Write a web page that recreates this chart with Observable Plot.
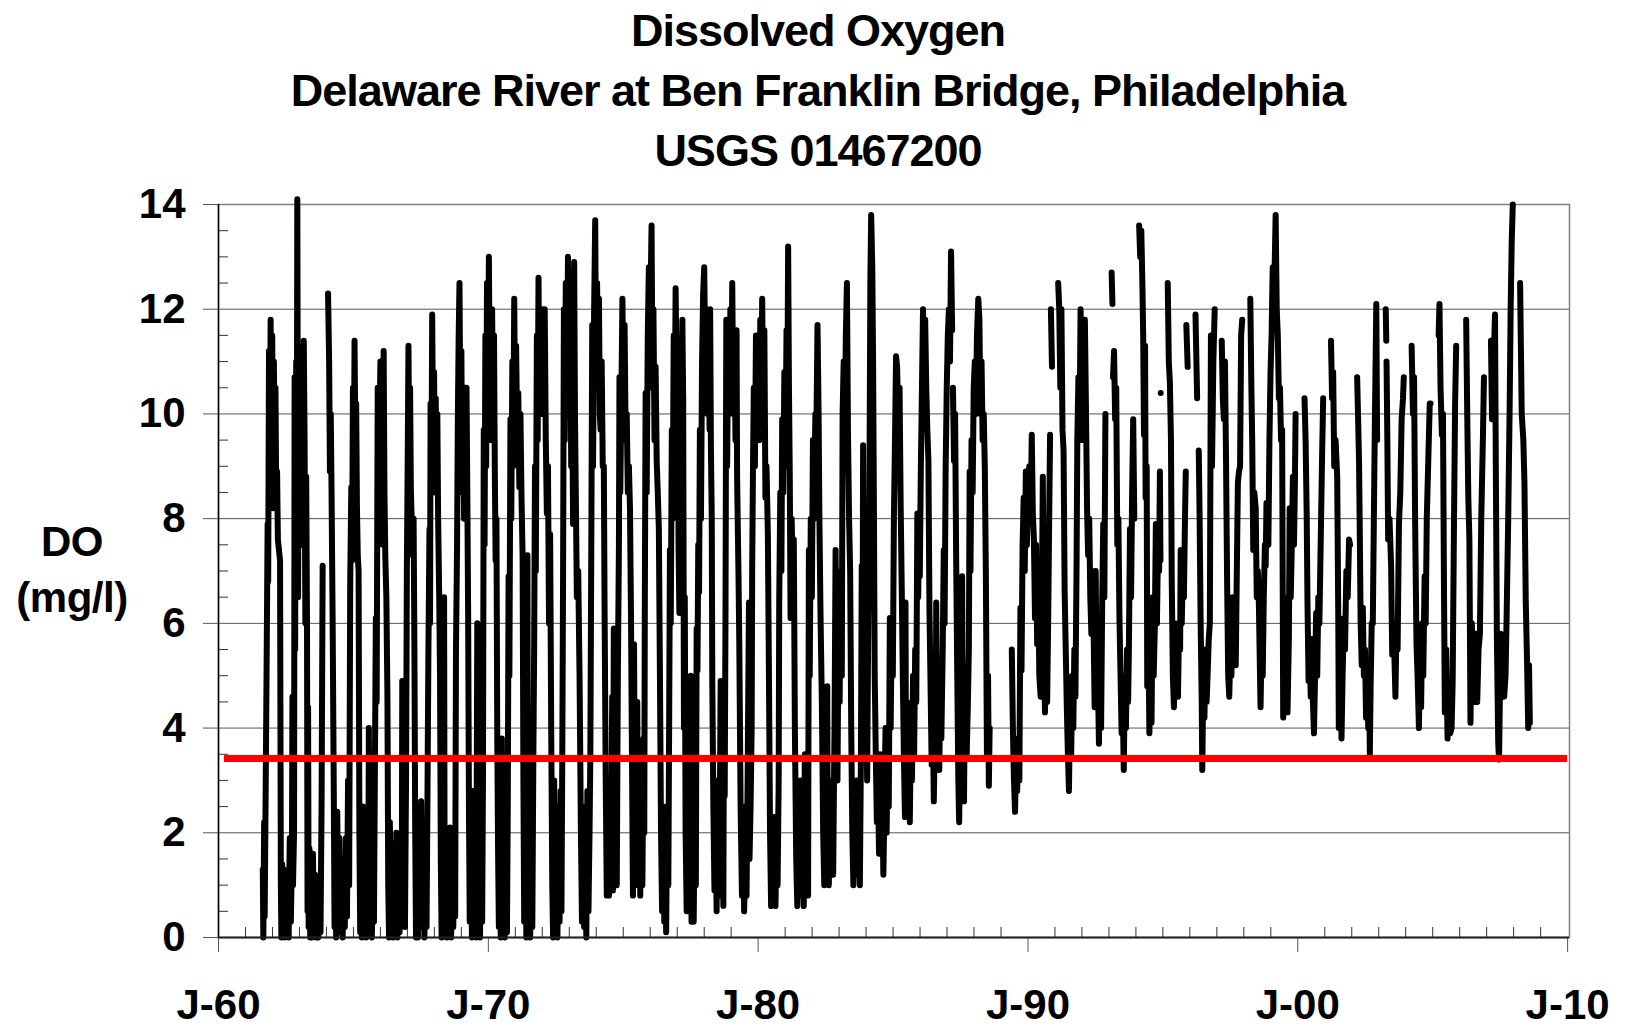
<!DOCTYPE html>
<html>
<head>
<meta charset="utf-8">
<script src="https://cdn.jsdelivr.net/npm/d3@7"></script>
<script src="https://cdn.jsdelivr.net/npm/@observablehq/plot@0.6"></script>
<style>
  html, body { margin: 0; padding: 0; background: #fff; }
  #wrap { position: relative; width: 1625px; height: 1027px; font-family: "Liberation Sans", Arial, sans-serif; font-weight: bold; color: #000; }
  #title { width: 1614px; padding-left: 11px; text-align: center; font-size: 45px; line-height: 60px; letter-spacing: -1px; padding-top: 1px; height: 179px; }
  #chart svg { display: block; }
  .ylab { position: absolute; left: 0; width: 144px; text-align: center; font-size: 42px; line-height: 42px; letter-spacing: -0.5px; }
</style>
</head>
<body>
<div id="wrap">
  <div id="title">
    <div>Dissolved Oxygen</div>
    <div>Delaware River at Ben Franklin Bridge, Philadelphia</div>
    <div>USGS 01467200</div>
  </div>
  <div id="chart"></div>
  <div class="ylab" style="top:521px">DO</div>
  <div class="ylab" style="top:577px">(mg/l)</div>
</div>
<script>
// ---- Data: [decimal year, dissolved oxygen mg/l]; null = gap in record ----
const do1960s = [
[1961.64,1.3],[1961.66,0],[1961.69,2.2],[1961.71,0.4],[1961.76,3.7],[1961.80,6.5],[1961.82,7.9],[1961.84,6.8],[1961.87,11.2],[1961.90,8.5],[1961.93,11.8],[1961.96,9.0],[1961.99,11.5],[1962.02,8.2],[1962.05,11.0],[1962.08,9.5],[1962.11,10.5],[1962.14,8.3],[1962.17,8.9],[1962.20,7.6],[1962.24,7.4],[1962.28,7.2],[1962.31,1.0],[1962.33,0],[1962.36,1.4],[1962.39,0.2],[1962.42,1.3],[1962.45,0],[1962.48,1.0],[1962.52,0.1],[1962.56,1.2],[1962.60,0],[1962.64,1.9],[1962.68,0.3],[1962.72,1.5],[1962.74,4.6],[1962.76,1.0],[1962.80,2.0],[1962.82,10.7],[1962.84,5.5],[1962.86,9.5],[1962.88,11.0],[1962.90,8.0],[1962.92,14.1],[1962.93,12.0],[1962.95,6.5],[1962.98,11.3],[1963.01,8.5],[1963.04,10.5],[1963.07,7.5],[1963.10,11.0],[1963.13,8.0],[1963.16,11.4],[1963.19,9.5],[1963.22,6.0],[1963.25,8.8],[1963.28,6.0],[1963.30,0.5],[1963.32,4.4],[1963.34,0.2],[1963.37,1.7],[1963.40,0],[1963.43,1.3],[1963.46,0],[1963.50,1.6],[1963.54,0.1],[1963.58,1.2],[1963.62,0],[1963.66,0.8],[1963.70,0],[1963.74,0.5],[1963.78,0.1],[1963.82,2.5],[1963.86,7.1],[1963.88,null],
[1964.06,12.3],[1964.10,11.0],[1964.13,8.9],[1964.16,10.0],[1964.19,8.5],[1964.23,6.0],[1964.27,3.0],[1964.30,0.2],[1964.33,2.1],[1964.36,0],[1964.40,2.4],[1964.44,0.3],[1964.48,1.9],[1964.52,0.1],[1964.56,1.5],[1964.60,0],[1964.64,1.0],[1964.68,0.2],[1964.72,1.9],[1964.76,0.4],[1964.80,3.0],[1964.84,1.0],[1964.88,6.8],[1964.92,8.6],[1964.95,7.2],[1964.98,10.5],[1965.01,8.2],[1965.04,11.4],[1965.07,9.5],[1965.10,10.2],[1965.13,8.2],[1965.16,7.3],[1965.19,7.0],[1965.22,2.0],[1965.25,0.1],[1965.28,1.8],[1965.31,0],[1965.35,2.5],[1965.39,0.2],[1965.43,1.6],[1965.47,0],[1965.51,2.2],[1965.55,0.5],[1965.57,4.0],[1965.60,0.8],[1965.64,1.5],[1965.68,0],[1965.72,1.0],[1965.76,0.3],[1965.80,3.6],[1965.83,6.1],[1965.86,4.5],[1965.90,10.5],[1965.93,8.5],[1965.96,9.5],[1966.00,11.0],[1966.03,8.0],[1966.06,10.5],[1966.09,7.5],[1966.12,11.2],[1966.15,8.5],[1966.18,7.3],[1966.22,6.5],[1966.26,4.6],[1966.29,1.0],[1966.32,0],[1966.35,2.2],[1966.39,0.1],[1966.43,1.8],[1966.47,0],[1966.51,1.5],[1966.55,0.2],[1966.59,2.0],[1966.63,0],[1966.67,1.2],[1966.71,0.1],[1966.75,1.6],[1966.79,0.3],[1966.81,4.9],[1966.83,0.5],[1966.87,2.0],[1966.91,0.2],[1966.95,3.0],[1966.98,7.0],[1967.01,9.0],[1967.04,11.3],[1967.07,9.0],[1967.10,10.5],[1967.13,8.5],[1967.16,8.0],[1967.19,7.3],[1967.23,8.0],[1967.26,5.6],[1967.29,2.0],[1967.32,0],[1967.35,1.5],[1967.39,0],[1967.43,1.8],[1967.47,0.2],[1967.51,2.6],[1967.55,0.3],[1967.59,1.8],[1967.63,0],[1967.67,1.2],[1967.71,0.2],[1967.74,2.3],[1967.78,5.5],[1967.82,7.8],[1967.84,6.0],[1967.86,10.2],[1967.89,8.5],[1967.92,11.9],[1967.95,9.5],[1967.99,10.8],[1968.02,8.5],[1968.05,10.3],[1968.08,9.0],[1968.11,10.0],[1968.14,8.0],[1968.18,6.5],[1968.21,5.0],[1968.24,1.4],[1968.27,0],[1968.30,1.8],[1968.34,0.1],[1968.36,6.5],[1968.38,1.0],[1968.42,2.0],[1968.46,0],[1968.50,1.5],[1968.54,0.3],[1968.58,2.1],[1968.62,0],[1968.66,1.4],[1968.70,0.2],[1968.74,1.5],[1968.77,0.4],[1968.80,5.5],[1968.84,7.5],[1968.87,10.0],[1968.90,11.5],[1968.93,12.5],[1968.96,10.0],[1969.00,11.2],[1969.03,8.5],[1969.06,10.5],[1969.10,8.0],[1969.13,10.5],[1969.16,8.0],[1969.19,10.5],[1969.22,8.5],[1969.25,6.2],[1969.28,2.5],[1969.31,0.3],[1969.35,2.5],[1969.39,0],[1969.43,2.8],[1969.47,0.4],[1969.51,1.5],[1969.55,0],[1969.59,6.0],[1969.61,1.0],[1969.65,2.0],[1969.69,0],[1969.73,1.5],[1969.77,0.3],[1969.80,3.0],[1969.83,9.7],[1969.86,7.5],[1969.89,11.5],[1969.92,9.0],[1969.95,12.5],[1969.98,10.0]
];
const do1970s = [
[1970.02,13.0],[1970.05,10.5],[1970.08,12.0],[1970.11,9.5],[1970.14,12.0],[1970.17,10.0],[1970.21,11.5],[1970.24,8.9],[1970.27,7.2],[1970.30,8.0],[1970.33,3.9],[1970.36,1.7],[1970.39,0.2],[1970.42,2.0],[1970.46,0],[1970.50,3.8],[1970.53,0.5],[1970.57,2.2],[1970.61,0],[1970.65,1.8],[1970.69,0.1],[1970.72,2.5],[1970.75,6.9],[1970.78,5.0],[1970.82,9.9],[1970.85,8.0],[1970.89,11.0],[1970.92,9.0],[1970.96,12.2],[1970.99,10.0],[1971.03,11.3],[1971.07,9.5],[1971.11,10.4],[1971.15,8.6],[1971.19,10.0],[1971.23,8.4],[1971.27,7.3],[1971.30,3.0],[1971.33,0.3],[1971.37,2.0],[1971.41,0],[1971.45,7.3],[1971.47,0.5],[1971.51,1.8],[1971.55,0],[1971.59,2.3],[1971.63,0.2],[1971.67,3.5],[1971.70,5.6],[1971.73,9.0],[1971.76,7.0],[1971.80,11.5],[1971.83,9.5],[1971.86,12.6],[1971.89,10.5],[1971.93,12.0],[1971.97,10.0],[1972.01,12.0],[1972.05,10.7],[1972.09,12.0],[1972.13,9.5],[1972.17,8.1],[1972.21,9.0],[1972.25,6.0],[1972.29,7.7],[1972.33,4.0],[1972.37,1.0],[1972.40,0],[1972.44,3.0],[1972.48,0.2],[1972.52,2.5],[1972.56,0],[1972.60,1.8],[1972.64,0.3],[1972.68,2.8],[1972.71,0.5],[1972.74,3.5],[1972.77,7.0],[1972.80,12.0],[1972.83,9.5],[1972.87,12.5],[1972.91,10.0],[1972.95,13.0],[1972.99,11.0],[1973.03,12.5],[1973.07,9.0],[1973.11,10.0],[1973.14,7.9],[1973.18,12.9],[1973.21,10.0],[1973.25,8.0],[1973.28,6.5],[1973.33,7.0],[1973.38,5.0],[1973.43,2.0],[1973.47,0.3],[1973.51,2.5],[1973.55,0.2],[1973.59,1.5],[1973.63,0],[1973.67,2.8],[1973.71,0.5],[1973.75,2.0],[1973.78,3.5],[1973.82,8.0],[1973.85,11.7],[1973.88,9.0],[1973.92,12.0],[1973.96,13.7],[1973.99,11.0],[1974.03,12.5],[1974.07,10.5],[1974.10,12.2],[1974.13,10.0],[1974.16,9.7],[1974.20,11.0],[1974.24,9.0],[1974.28,9.0],[1974.31,6.1],[1974.35,3.0],[1974.39,0.8],[1974.43,2.2],[1974.47,0.8],[1974.51,3.0],[1974.55,1.0],[1974.59,4.6],[1974.62,0.9],[1974.65,5.9],[1974.68,1.5],[1974.72,3.0],[1974.76,1.0],[1974.80,5.0],[1974.84,7.5],[1974.86,10.7],[1974.89,8.5],[1974.93,10.3],[1974.97,12.2],[1975.01,10.0],[1975.05,11.7],[1975.09,9.5],[1975.13,10.0],[1975.17,8.5],[1975.21,9.0],[1975.25,8.2],[1975.29,6.0],[1975.33,3.0],[1975.36,0.8],[1975.40,5.6],[1975.44,1.5],[1975.48,3.0],[1975.52,4.5],[1975.55,1.0],[1975.59,3.5],[1975.63,0.8],[1975.67,2.5],[1975.71,1.0],[1975.75,3.8],[1975.78,2.0],[1975.80,6.3],[1975.83,10.4],[1975.87,8.5],[1975.91,11.5],[1975.95,12.8],[1975.98,10.5],[1976.02,12.5],[1976.05,13.6],[1976.08,11.0],[1976.12,12.0],[1976.16,9.5],[1976.20,10.9],[1976.24,9.1],[1976.28,8.5],[1976.32,7.8],[1976.36,5.0],[1976.40,2.0],[1976.44,0.5],[1976.48,2.5],[1976.52,0.3],[1976.56,1.8],[1976.59,0.1],[1976.63,2.5],[1976.67,1.0],[1976.70,4.0],[1976.73,7.4],[1976.76,6.0],[1976.80,9.7],[1976.83,8.0],[1976.87,11.5],[1976.91,10.0],[1976.94,12.4],[1976.98,10.5],[1977.02,11.0],[1977.05,7.4],[1977.08,6.2],[1977.12,9.5],[1977.16,10.5],[1977.19,11.8],[1977.22,10.3],[1977.25,4.0],[1977.28,6.5],[1977.31,2.0],[1977.35,0.5],[1977.38,2.5],[1977.42,0.5],[1977.46,4.9],[1977.48,0.8],[1977.50,5.0],[1977.53,0.3],[1977.57,1.5],[1977.61,0.3],[1977.65,2.5],[1977.69,1.0],[1977.72,5.9],[1977.75,5.1],[1977.78,7.5],[1977.81,6.6],[1977.84,9.7],[1977.88,8.0],[1977.92,11.0],[1977.96,12.3],[1978.00,12.8],[1978.04,11.0],[1978.08,12.0],[1978.12,10.0],[1978.16,11.5],[1978.20,9.7],[1978.22,12.0],[1978.25,9.3],[1978.28,8.0],[1978.30,4.9],[1978.34,2.5],[1978.38,0.9],[1978.42,2.5],[1978.46,0.5],[1978.50,3.0],[1978.54,0.8],[1978.58,2.5],[1978.61,4.9],[1978.63,1.0],[1978.67,2.8],[1978.71,0.6],[1978.73,4.0],[1978.76,2.7],[1978.79,6.2],[1978.82,11.8],[1978.85,9.0],[1978.89,11.5],[1978.93,10.0],[1978.97,12.0],[1979.01,10.5],[1979.04,12.5],[1979.08,10.0],[1979.12,11.6],[1979.16,9.5],[1979.20,11.6],[1979.22,8.8],[1979.27,7.0],[1979.30,5.7],[1979.35,2.5],[1979.40,0.8],[1979.44,2.5],[1979.48,0.5],[1979.53,1.5],[1979.57,0.8],[1979.61,3.0],[1979.66,6.4],[1979.68,1.5],[1979.72,2.5],[1979.76,4.0],[1979.78,7.1],[1979.81,9.0],[1979.84,10.5],[1979.88,9.0],[1979.92,11.5],[1979.96,10.0]
];
const do1980s = [
[1980.00,11.0],[1980.04,9.5],[1980.08,11.8],[1980.12,10.5],[1980.15,12.2],[1980.19,10.0],[1980.23,11.6],[1980.27,8.4],[1980.31,9.0],[1980.36,7.7],[1980.40,5.0],[1980.44,2.0],[1980.48,0.6],[1980.52,1.8],[1980.56,0.8],[1980.60,2.3],[1980.64,0.6],[1980.68,1.8],[1980.72,1.0],[1980.76,3.0],[1980.78,6.4],[1980.82,8.5],[1980.86,7.0],[1980.89,9.9],[1980.93,8.5],[1980.97,10.8],[1981.01,9.0],[1981.05,11.6],[1981.08,10.0],[1981.11,13.2],[1981.14,10.5],[1981.17,8.9],[1981.20,6.1],[1981.24,8.0],[1981.28,7.0],[1981.32,7.6],[1981.36,4.0],[1981.41,1.5],[1981.45,0.6],[1981.49,2.5],[1981.53,0.8],[1981.57,3.0],[1981.61,1.0],[1981.65,2.0],[1981.69,0.6],[1981.73,3.5],[1981.77,1.2],[1981.81,2.5],[1981.85,0.8],[1981.88,7.4],[1981.91,5.0],[1981.95,8.0],[1981.99,6.5],[1982.03,9.5],[1982.07,8.0],[1982.12,10.0],[1982.16,9.8],[1982.20,11.7],[1982.24,10.0],[1982.27,8.0],[1982.31,6.2],[1982.36,4.5],[1982.41,2.0],[1982.45,1.0],[1982.49,2.5],[1982.53,1.2],[1982.56,4.8],[1982.58,1.5],[1982.62,1.0],[1982.66,3.0],[1982.70,1.5],[1982.74,2.5],[1982.78,1.2],[1982.83,4.0],[1982.87,7.4],[1982.90,5.0],[1982.94,3.0],[1982.98,6.0],[1983.02,4.5],[1983.06,7.0],[1983.10,5.0],[1983.13,10.0],[1983.17,11.0],[1983.21,9.5],[1983.25,11.5],[1983.29,12.5],[1983.33,9.6],[1983.37,8.0],[1983.41,7.0],[1983.45,4.0],[1983.49,2.0],[1983.53,1.0],[1983.57,2.5],[1983.61,1.2],[1983.65,3.0],[1983.69,1.5],[1983.73,2.5],[1983.77,1.0],[1983.81,3.5],[1983.84,7.1],[1983.87,5.0],[1983.89,9.4],[1983.92,6.0],[1983.96,3.5],[1984.00,5.0],[1984.04,3.0],[1984.08,6.0],[1984.12,8.0],[1984.16,12.6],[1984.19,13.8],[1984.23,12.8],[1984.26,11.0],[1984.29,8.3],[1984.32,5.0],[1984.36,3.5],[1984.40,2.2],[1984.44,3.0],[1984.48,1.6],[1984.52,3.5],[1984.56,2.0],[1984.60,2.8],[1984.64,1.2],[1984.68,2.5],[1984.72,4.0],[1984.76,2.0],[1984.80,3.5],[1984.84,2.5],[1984.88,6.1],[1984.91,4.0],[1984.95,6.0],[1984.99,5.0],[1985.03,8.0],[1985.07,9.5],[1985.11,11.1],[1985.15,10.9],[1985.19,9.8],[1985.24,10.5],[1985.28,8.3],[1985.32,6.7],[1985.36,5.0],[1985.40,3.5],[1985.44,2.3],[1985.46,6.4],[1985.48,3.0],[1985.52,4.5],[1985.56,2.8],[1985.60,3.5],[1985.62,2.2],[1985.66,4.0],[1985.70,3.0],[1985.74,5.0],[1985.78,3.5],[1985.82,5.5],[1985.86,4.5],[1985.90,8.1],[1985.93,6.5],[1985.96,7.7],[1985.99,6.9],
[1986.03,9.0],[1986.07,10.5],[1986.11,12.0],[1986.15,10.5],[1986.19,11.8],[1986.23,10.5],[1986.27,9.7],[1986.31,9.1],[1986.35,6.2],[1986.39,4.8],[1986.43,3.3],[1986.47,4.5],[1986.51,2.6],[1986.55,4.0],[1986.58,3.3],[1986.60,6.4],[1986.63,3.5],[1986.67,4.6],[1986.71,3.2],[1986.75,4.5],[1986.79,3.8],[1986.84,5.5],[1986.88,7.4],[1986.91,6.0],[1986.95,9.0],[1986.99,10.5],[1987.03,11.5],[1987.07,12.0],[1987.11,11.0],[1987.15,13.1],[1987.19,11.6],[1987.20,null],[1987.22,10.5],[1987.26,9.1],[1987.30,10.0],[1987.34,7.2],[1987.38,5.0],[1987.42,3.0],[1987.45,2.2],[1987.49,4.0],[1987.53,3.0],[1987.56,6.9],[1987.59,3.5],[1987.63,2.6],[1987.66,4.5],[1987.69,5.2],[1987.73,3.5],[1987.77,4.4],[1987.81,5.5],[1987.84,8.9],[1987.87,7.0],[1987.91,9.5],[1987.95,8.5],[1987.99,10.5],[1988.03,11.0],[1988.07,10.0],[1988.11,11.5],[1988.16,12.2],[1988.20,11.8],[1988.24,10.0],[1988.28,11.0],[1988.32,9.5],[1988.36,10.0],[1988.40,9.0],[1988.44,6.9],[1988.48,3.4],[1988.52,5.0],[1988.55,2.9],[1988.58,4.0],[1988.60,null],
[1989.40,5.5],[1989.44,4.0],[1989.48,3.0],[1989.52,2.4],[1989.56,3.5],[1989.60,2.8],[1989.64,3.8],[1989.68,3.0],[1989.72,6.3],[1989.76,5.1],[1989.80,7.5],[1989.84,8.4],[1989.88,7.0],[1989.92,8.9],[1989.96,7.5]
];
const do1990s = [
[1990.00,8.5],[1990.05,9.0],[1990.10,8.0],[1990.14,9.6],[1990.18,8.1],[1990.22,7.6],[1990.26,6.1],[1990.30,7.5],[1990.34,5.6],[1990.38,7.0],[1990.42,5.0],[1990.47,4.6],[1990.51,6.0],[1990.55,8.8],[1990.59,5.6],[1990.63,4.3],[1990.67,5.5],[1990.71,4.5],[1990.75,6.1],[1990.79,8.2],[1990.82,9.6],[1990.83,null],[1990.85,12.0],[1990.89,10.9],[1990.90,null],
[1991.12,12.5],[1991.16,12.0],[1991.20,10.5],[1991.24,12.0],[1991.28,9.7],[1991.32,9.3],[1991.36,6.6],[1991.40,5.5],[1991.44,4.4],[1991.48,3.5],[1991.52,2.8],[1991.56,4.5],[1991.60,3.4],[1991.64,5.0],[1991.68,4.0],[1991.72,5.5],[1991.76,4.6],[1991.80,7.0],[1991.83,9.5],[1991.87,10.7],[1991.91,9.5],[1991.95,12.0],[1991.99,10.5],[1992.03,11.0],[1992.07,9.5],[1992.11,11.8],[1992.15,10.1],[1992.19,8.2],[1992.23,7.3],[1992.27,8.0],[1992.31,6.5],[1992.35,5.8],[1992.39,7.0],[1992.43,6.0],[1992.47,4.4],[1992.51,7.0],[1992.55,4.4],[1992.59,5.0],[1992.63,3.7],[1992.67,5.5],[1992.71,4.0],[1992.75,6.4],[1992.79,7.9],[1992.83,6.5],[1992.87,10.0],[1992.88,null],
[1993.10,12.7],[1993.13,12.1],[1993.14,null],[1993.15,10.7],[1993.19,11.2],[1993.23,9.9],[1993.27,10.5],[1993.31,7.5],[1993.35,8.0],[1993.39,6.1],[1993.43,5.0],[1993.47,3.9],[1993.51,4.5],[1993.55,3.2],[1993.59,5.0],[1993.63,4.0],[1993.67,5.5],[1993.71,4.5],[1993.74,5.5],[1993.78,7.8],[1993.82,6.5],[1993.86,8.5],[1993.90,9.9],[1993.94,8.0],[1993.95,null],
[1994.12,13.6],[1994.16,13.0],[1994.20,13.5],[1994.24,12.5],[1994.27,11.5],[1994.30,9.6],[1994.34,11.3],[1994.36,8.4],[1994.40,9.0],[1994.42,4.8],[1994.46,6.0],[1994.50,3.9],[1994.54,5.0],[1994.58,4.1],[1994.62,6.5],[1994.66,5.0],[1994.70,5.9],[1994.74,7.9],[1994.78,6.0],[1994.82,7.5],[1994.86,7.0],[1994.89,8.9],[1994.91,7.2],[1994.915,null],[1994.92,10.4],[1994.925,null],
[1995.18,12.5],[1995.22,11.0],[1995.26,10.6],[1995.30,9.5],[1995.33,6.8],[1995.37,5.0],[1995.41,4.4],[1995.45,6.0],[1995.49,4.8],[1995.53,5.5],[1995.56,4.6],[1995.60,6.0],[1995.64,5.5],[1995.66,7.4],[1995.70,6.0],[1995.74,7.0],[1995.78,6.5],[1995.82,8.0],[1995.85,8.9],[1995.86,null],[1995.87,11.7],[1995.92,10.9],[1995.93,null],
[1996.21,11.9],[1996.27,10.3],[1996.30,null],[1996.33,9.3],[1996.36,8.1],[1996.40,6.0],[1996.44,4.5],[1996.46,3.2],[1996.50,5.0],[1996.54,4.2],[1996.58,5.5],[1996.62,4.5],[1996.65,4.9],[1996.70,5.7],[1996.74,6.0],[1996.78,11.5],[1996.82,9.0],[1996.87,11.0],[1996.92,12.0],[1996.93,null],
[1997.18,11.4],[1997.22,10.3],[1997.26,9.9],[1997.30,11.0],[1997.34,9.1],[1997.38,6.8],[1997.42,5.0],[1997.46,4.6],[1997.50,5.5],[1997.54,5.0],[1997.58,6.5],[1997.62,5.5],[1997.66,6.5],[1997.70,5.2],[1997.74,7.0],[1997.78,8.7],[1997.82,8.9],[1997.86,9.0],[1997.90,11.5],[1997.94,11.8],[1997.95,null],
[1998.24,12.2],[1998.28,10.5],[1998.31,9.5],[1998.35,7.4],[1998.39,8.5],[1998.44,8.2],[1998.48,6.5],[1998.52,7.0],[1998.56,6.3],[1998.60,5.0],[1998.62,4.4],[1998.66,5.7],[1998.70,5.0],[1998.74,6.5],[1998.78,7.5],[1998.81,7.1],[1998.84,8.3],[1998.87,8.1],[1998.91,7.5],[1998.95,9.5],[1998.99,10.8],[1999.03,11.5],[1999.07,12.8],[1999.12,12.2],[1999.15,13.0],[1999.18,13.8],[1999.22,12.0],[1999.26,11.5],[1999.30,10.3],[1999.34,10.5],[1999.38,9.5],[1999.42,9.7],[1999.46,4.2],[1999.50,6.5],[1999.54,5.0],[1999.58,6.0],[1999.62,4.3],[1999.67,5.7],[1999.70,8.2],[1999.74,6.5],[1999.78,7.5],[1999.82,8.8],[1999.86,7.5],[1999.89,8.5],[1999.92,10.0],[1999.93,null]
];
const do2000s = [
[2000.25,10.3],[2000.29,9.5],[2000.33,8.1],[2000.36,6.4],[2000.40,4.9],[2000.44,5.5],[2000.48,4.6],[2000.52,5.7],[2000.56,4.5],[2000.60,3.9],[2000.64,5.0],[2000.68,6.2],[2000.72,5.0],[2000.76,6.5],[2000.80,6.0],[2000.85,7.6],[2000.90,9.2],[2000.94,10.3],[2000.95,null],
[2001.23,11.4],[2001.27,10.3],[2001.31,10.8],[2001.35,9.0],[2001.40,9.5],[2001.46,8.8],[2001.50,6.1],[2001.52,4.0],[2001.56,5.5],[2001.60,4.5],[2001.62,3.8],[2001.66,5.0],[2001.71,6.1],[2001.75,5.5],[2001.80,7.0],[2001.85,6.5],[2001.90,7.6],[2001.94,7.5],[2001.95,null],
[2002.20,10.7],[2002.24,9.8],[2002.27,9.1],[2002.30,7.6],[2002.33,6.0],[2002.37,5.2],[2002.41,6.3],[2002.45,5.0],[2002.49,5.5],[2002.53,4.2],[2002.57,5.0],[2002.61,4.0],[2002.65,4.8],[2002.67,3.5],[2002.70,4.8],[2002.74,6.0],[2002.78,6.0],[2002.82,8.0],[2002.86,10.0],[2002.88,10.8],[2002.91,12.1],[2002.94,9.5],[2002.95,null],
[2003.26,12.0],[2003.28,11.4],[2003.285,null],[2003.29,11.0],[2003.32,9.5],[2003.35,7.6],[2003.40,8.0],[2003.46,7.1],[2003.50,5.4],[2003.55,6.0],[2003.60,5.0],[2003.62,4.6],[2003.66,6.0],[2003.70,5.5],[2003.75,7.9],[2003.80,8.5],[2003.85,9.9],[2003.90,10.3],[2003.93,10.7],[2003.94,null],
[2004.22,11.3],[2004.27,10.0],[2004.31,10.7],[2004.35,7.9],[2004.40,5.6],[2004.44,5.0],[2004.49,4.0],[2004.53,5.5],[2004.57,4.4],[2004.61,6.0],[2004.65,5.0],[2004.70,6.9],[2004.74,6.0],[2004.78,8.0],[2004.83,9.0],[2004.89,10.2],[2004.92,10.2],[2004.93,null],
[2005.22,11.5],[2005.25,12.1],[2005.29,10.5],[2005.34,9.6],[2005.38,10.0],[2005.42,6.5],[2005.45,4.3],[2005.50,5.5],[2005.55,3.8],[2005.60,4.5],[2005.65,3.9],[2005.70,4.0],[2005.74,4.9],[2005.79,8.0],[2005.83,10.2],[2005.87,11.3],[2005.88,null],
[2006.24,11.8],[2006.28,10.0],[2006.32,8.4],[2006.36,7.6],[2006.40,4.1],[2006.45,6.0],[2006.50,5.0],[2006.55,4.5],[2006.60,5.8],[2006.65,4.5],[2006.70,5.5],[2006.75,5.8],[2006.80,8.0],[2006.86,9.5],[2006.90,10.7],[2006.91,null],
[2007.16,11.4],[2007.20,9.9],[2007.26,11.0],[2007.31,11.9],[2007.34,9.0],[2007.38,5.7],[2007.43,3.7],[2007.46,3.4],[2007.50,5.0],[2007.52,5.8],[2007.56,4.6],[2007.60,5.5],[2007.65,4.6],[2007.70,5.0],[2007.74,6.1],[2007.80,8.0],[2007.85,10.0],[2007.89,12.0],[2007.93,13.3],[2007.97,14.0],[2007.98,null],
[2008.24,12.5],[2008.30,10.0],[2008.36,9.5],[2008.40,8.7],[2008.45,6.4],[2008.50,5.2],[2008.54,4.0],[2008.57,5.2],[2008.60,4.1]
];

// Water-quality standard line (mg/l) and its extent
const standardValue = 3.42;
const standardStart = 1960.22;
const standardEnd = 2010.0;

// Axes
const xDomain = [1960, 2010.07];
const yDomain = [0, 14];
const yMajorTicks = [0, 2, 4, 6, 8, 10, 12, 14];
const yMinorTicks = d3.range(0, 14.01, 0.5).filter(v => v % 2 !== 0);
const xTickYears = [1960, 1970, 1980, 1990, 2000, 2010];
const xTickLabels = ["J-60", "J-70", "J-80", "J-90", "J-00", "J-10"];
const xMinorYears = d3.range(1961, 2010).filter(y => y % 10 !== 0);

// ---- helpers ----
function toDate(t) {
  const y = Math.floor(t);
  const a = Date.UTC(y, 0, 1), b = Date.UTC(y + 1, 0, 1);
  return new Date(a + (t - y) * (b - a));
}
const rows = [do1960s, do1970s, do1980s, do1990s, do2000s].flat()
  .map(([t, v]) => ({date: toDate(t), value: v}));

const chart = Plot.plot({
  width: 1625,
  height: 847,
  marginLeft: 218,
  marginRight: 56,
  marginTop: 24,
  marginBottom: 90,
  style: {
    fontFamily: '"Liberation Sans", Arial, sans-serif',
    fontSize: "42px",
    fontWeight: "bold",
    background: "white",
    color: "black",
    overflow: "visible"
  },
  x: {type: "utc", domain: xDomain.map(toDate)},
  y: {domain: yDomain},
  marks: [
    Plot.gridY(yMajorTicks, {stroke: "#555", strokeOpacity: 1, strokeWidth: 1}),
    Plot.frame({stroke: "#808080", strokeWidth: 1.5}),
    Plot.axisY(yMajorTicks, {tickSize: 15, tickPadding: 18, stroke: "#555", fill: "black", label: null, tickFormat: d => String(d)}),
    Plot.axisY(yMinorTicks, {tickSize: 10, dx: 10, stroke: "#333", label: null, tickFormat: () => ""}),
    Plot.axisX(xTickYears.map(toDate), {tickSize: 15, tickPadding: 37, stroke: "#555", fill: "black", label: null,
      tickFormat: d => xTickLabels[xTickYears.indexOf(d.getUTCFullYear())]}),
    Plot.axisX(xMinorYears.map(toDate), {tickSize: 10, dy: -10, stroke: "#333", label: null, tickFormat: () => ""}),
    Plot.line(rows, {x: "date", y: "value", stroke: "black", strokeWidth: 6, strokeLinejoin: "round", strokeLinecap: "round"}),
    Plot.ruleY([standardValue], {x1: toDate(standardStart), x2: toDate(standardEnd), stroke: "#ff0000", strokeWidth: 7}),
    Plot.ruleX([toDate(xDomain[0])], {stroke: "black", strokeWidth: 1.5}),
    Plot.ruleY([0], {stroke: "#222", strokeWidth: 2})
  ]
});
document.getElementById("chart").appendChild(chart);
</script>
</body>
</html>
